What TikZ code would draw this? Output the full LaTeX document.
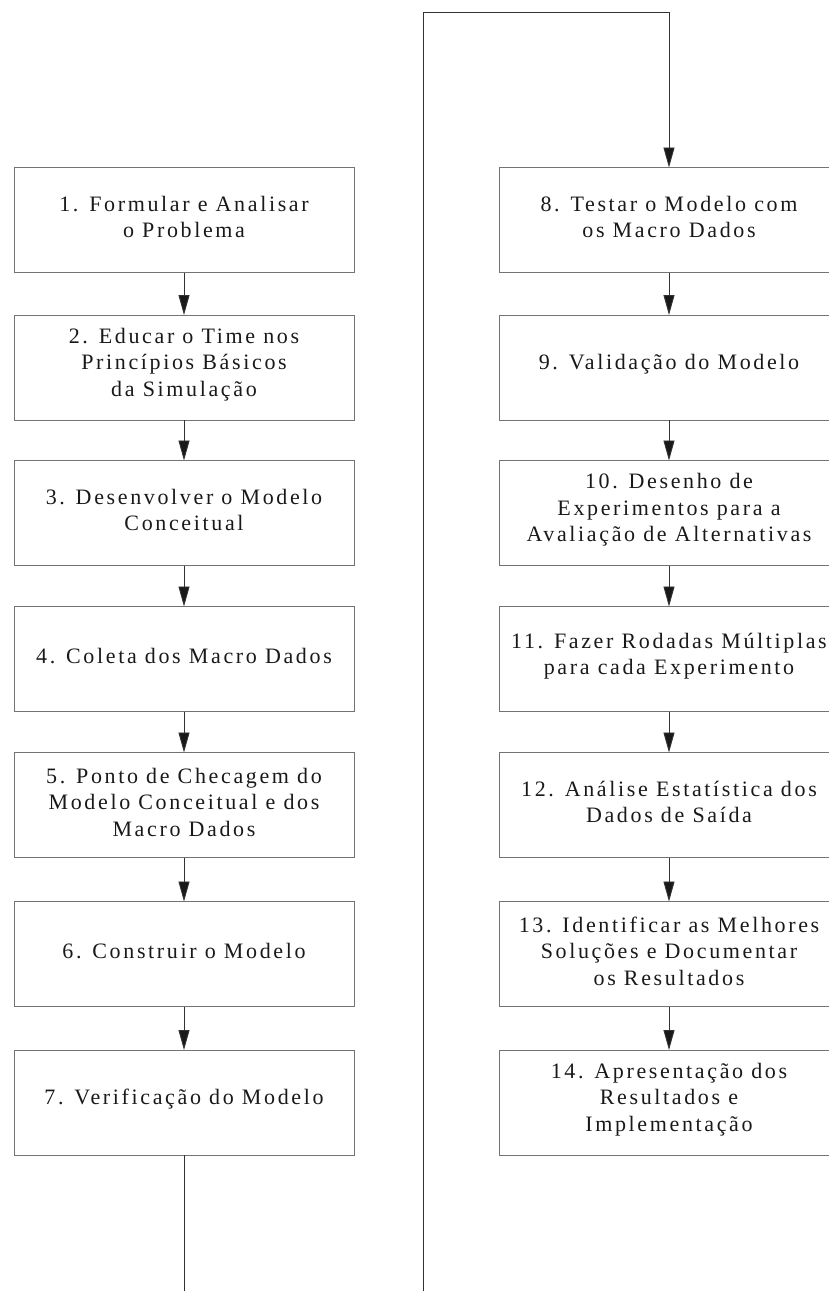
\documentclass[tikz,border=0pt]{standalone}
\usepackage{fontspec}
\setmainfont[LetterSpace=12]{Liberation Serif}
\usetikzlibrary{arrows.meta}
\begin{document}
\begin{tikzpicture}[x=1pt,y=-1pt,
  stepbox/.style={draw=black!55, line width=0.9pt, minimum width=340pt,
    minimum height=105pt, inner sep=0pt, outer sep=0pt},
  steptext/.style={align=center, font=\fontsize{22}{26.5}\selectfont,
    text=black!90, inner sep=0pt},
  flow/.style={draw=black!80, line width=0.9pt,
    -{Triangle[length=20pt,width=11pt,fill=black!90]}},
]
\useasboundingbox (0,0) rectangle (829,1291);

% left column: steps 1-7
\node[stepbox] (b1) at (184,220)    {};
\node[stepbox] (b2) at (184,367.5)  {};
\node[stepbox] (b3) at (184,513)    {};
\node[stepbox] (b4) at (184,659)    {};
\node[stepbox] (b5) at (184,805)    {};
\node[stepbox] (b6) at (184,954)    {};
\node[stepbox] (b7) at (184,1102.5) {};

% right column: steps 8-14
\node[stepbox] (b8)  at (669,220)    {};
\node[stepbox] (b9)  at (669,367.5)  {};
\node[stepbox] (b10) at (669,513)    {};
\node[stepbox] (b11) at (669,659)    {};
\node[stepbox] (b12) at (669,805)    {};
\node[stepbox] (b13) at (669,954)    {};
\node[stepbox] (b14) at (669,1102.5) {};

% step labels
\node[steptext] (t1) at ([yshift=3pt]b1.center) {1. Formular e Analisar\\o Problema};
\node[steptext] (t2) at ([yshift=3pt]b2.center) {2. Educar o Time nos\\Princípios Básicos\\da Simulação};
\node[steptext] (t3) at ([yshift=3pt]b3.center) {3. Desenvolver o Modelo\\Conceitual};
\node[steptext] (t4) at ([yshift=3pt]b4.center) {4. Coleta dos Macro Dados};
\node[steptext] (t5) at ([yshift=3pt]b5.center) {5. Ponto de Checagem do\\Modelo Conceitual e dos\\Macro Dados};
\node[steptext] (t6) at ([yshift=3pt]b6.center) {6. Construir o Modelo};
\node[steptext] (t7) at ([yshift=3pt]b7.center) {7. Verificação do Modelo};
\node[steptext] (t8) at ([yshift=3pt]b8.center) {8. Testar o Modelo com\\os Macro Dados};
\node[steptext] (t9) at ([yshift=3pt]b9.center) {9. Validação do Modelo};
\node[steptext] (t10) at ([yshift=3pt]b10.center) {10. Desenho de\\Experimentos para a\\Avaliação de Alternativas};
\node[steptext] (t11) at ([yshift=3pt]b11.center) {11. Fazer Rodadas Múltiplas\\para cada Experimento};
\node[steptext] (t12) at ([yshift=3pt]b12.center) {12. Análise Estatística dos\\Dados de Saída};
\node[steptext] (t13) at ([yshift=3pt]b13.center) {13. Identificar as Melhores\\Soluções e Documentar\\os Resultados};
\node[steptext] (t14) at ([yshift=3pt]b14.center) {14. Apresentação dos\\Resultados e\\Implementação};

% arrows within each column
\foreach \a/\b in {b1/b2,b2/b3,b3/b4,b4/b5,b5/b6,b6/b7,
                   b8/b9,b9/b10,b10/b11,b11/b12,b12/b13,b13/b14}
  \draw[flow] (\a) -- (\b);

% return line from step 7 to step 8
\coordinate (lb) at (184,1300);
\coordinate (rb) at (423,1300);
\coordinate (rt) at (423,12);
\coordinate (tt) at (669,12);
\draw[flow] (b7.south) -- (lb) -- (rb) -- (rt) -- (tt) -- (b8.north);
\end{tikzpicture}
\end{document}
